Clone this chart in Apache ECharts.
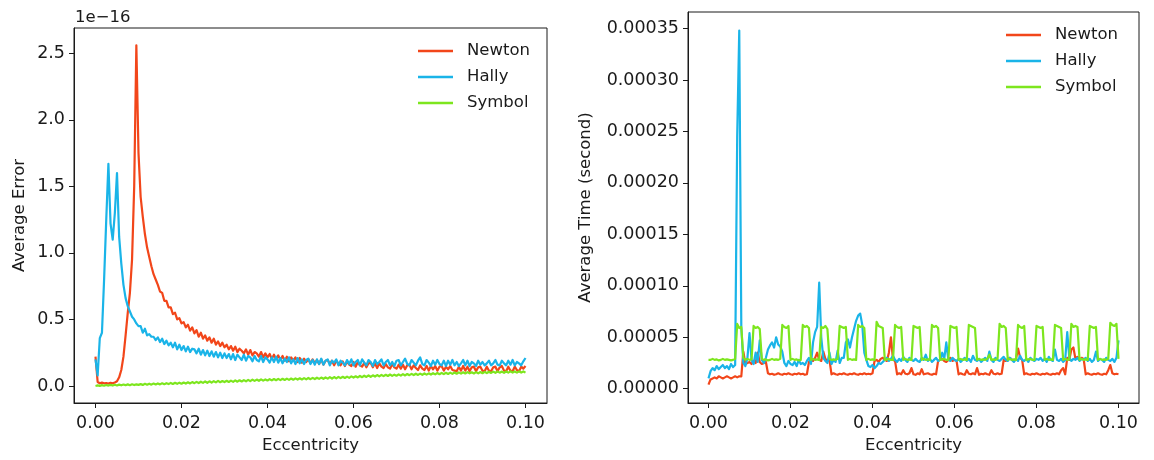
<!DOCTYPE html>
<html>
<head>
<meta charset="utf-8">
<script src="https://cdn.jsdelivr.net/npm/echarts@6/dist/echarts.min.js"></script>
<style>
  html, body { margin: 0; padding: 0; background: #ffffff; }
  #chart { width: 1154px; height: 460px; }
</style>
</head>
<body>
<div id="chart"></div>
<script>
// Sampling grid of orbital eccentricity (0 .. 0.1)
const ECC_STEP = 0.0005;
const SAMPLE_COUNT = 201;
const eccentricity = Array.from({ length: SAMPLE_COUNT }, (_, i) => +(i * ECC_STEP).toFixed(4));

const methodNames = ['Newton', 'Hally', 'Symbol'];

// Tick positions
const eccTicks = [0, 0.02, 0.04, 0.06, 0.08, 0.10];
const errorTicks = [0, 0.5, 1.0, 1.5, 2.0, 2.5];            // ×1e-16
const timeTicks = [0, 50, 100, 150, 200, 250, 300, 350];    // microseconds

// Average error, in units of 1e-16
const errNewton = [
  0.22, 0.03, 0.02, 0.025, 0.02, 0.022, 0.018, 0.024, 0.02, 0.026, 0.035, 0.065, 0.12, 0.22, 0.38, 0.55, 0.70, 0.95, 1.50, 2.56, 1.75,
  1.42, 1.27, 1.14, 1.04, 0.97, 0.90, 0.84, 0.80,
  0.76, 0.71, 0.70, 0.64, 0.64, 0.59, 0.59, 0.54, 0.55, 0.50, 0.51, 0.47,
  0.48, 0.44, 0.46, 0.415, 0.44, 0.395, 0.42, 0.37, 0.40, 0.355, 0.38, 0.34, 0.365, 0.325, 0.355, 0.31, 0.335, 0.30, 0.325, 0.29,
  0.31, 0.275, 0.30, 0.265, 0.295, 0.255, 0.28, 0.265, 0.245, 0.275, 0.235, 0.27, 0.23, 0.255, 0.245, 0.22, 0.255, 0.215, 0.245, 0.215,
  0.24, 0.205, 0.235, 0.2, 0.23, 0.195, 0.225, 0.19, 0.22, 0.185, 0.215, 0.19, 0.215, 0.18, 0.21, 0.175, 0.205, 0.18, 0.2, 0.17,
  0.2, 0.17, 0.195, 0.165, 0.2, 0.16, 0.19, 0.195, 0.165, 0.19, 0.155, 0.19, 0.17, 0.155, 0.185, 0.15, 0.185, 0.16, 0.15, 0.18,
  0.145, 0.18, 0.155, 0.145, 0.175, 0.14, 0.17, 0.175, 0.14, 0.17, 0.135, 0.17, 0.145, 0.135, 0.165, 0.14, 0.13, 0.165, 0.14, 0.13,
  0.16, 0.13, 0.16, 0.125, 0.155, 0.16, 0.125, 0.155, 0.135, 0.12, 0.155, 0.13, 0.12, 0.15, 0.115, 0.15, 0.125, 0.15, 0.115, 0.145,
  0.15, 0.115, 0.145, 0.125, 0.15, 0.12, 0.115, 0.11, 0.145, 0.115, 0.15, 0.115, 0.145, 0.11, 0.14, 0.145, 0.11, 0.14, 0.145, 0.115,
  0.11, 0.145, 0.115, 0.11, 0.14, 0.145, 0.11, 0.14, 0.15, 0.115, 0.11, 0.145, 0.115, 0.11, 0.145, 0.12, 0.11, 0.145, 0.13, 0.15
];
const errHally = [
  0.20, 0.08, 0.36, 0.40, 0.80, 1.25, 1.67, 1.22, 1.10, 1.30, 1.60, 1.12, 0.92, 0.76, 0.66, 0.60, 0.56, 0.52, 0.50, 0.47, 0.45,
  0.45, 0.40, 0.43, 0.38, 0.39, 0.37, 0.37, 0.345, 0.365, 0.33, 0.355, 0.315, 0.34, 0.305, 0.325, 0.29, 0.325, 0.275, 0.31, 0.27,
  0.30, 0.26, 0.295, 0.255, 0.28, 0.275, 0.245, 0.28, 0.235, 0.27, 0.23, 0.265, 0.225, 0.26, 0.22, 0.255, 0.215, 0.25, 0.21, 0.245,
  0.21, 0.24, 0.2, 0.24, 0.195, 0.235, 0.215, 0.195, 0.235, 0.19, 0.225, 0.215, 0.185, 0.225, 0.195, 0.185, 0.225, 0.18, 0.215, 0.2,
  0.175, 0.215, 0.18, 0.22, 0.175, 0.21, 0.17, 0.205, 0.18, 0.215, 0.17, 0.2, 0.165, 0.21, 0.17, 0.2, 0.165, 0.195, 0.205, 0.165,
  0.195, 0.16, 0.2, 0.165, 0.205, 0.16, 0.19, 0.2, 0.155, 0.19, 0.175, 0.2, 0.155, 0.19, 0.175, 0.155, 0.195, 0.165, 0.2, 0.155,
  0.18, 0.195, 0.155, 0.2, 0.175, 0.155, 0.195, 0.18, 0.15, 0.195, 0.165, 0.18, 0.2, 0.155, 0.18, 0.195, 0.155, 0.18, 0.15, 0.19,
  0.195, 0.155, 0.18, 0.205, 0.165, 0.155, 0.195, 0.175, 0.155, 0.19, 0.215, 0.165, 0.155, 0.195, 0.175, 0.15, 0.19, 0.16, 0.195, 0.165,
  0.155, 0.19, 0.15, 0.19, 0.16, 0.195, 0.155, 0.18, 0.15, 0.17, 0.195, 0.155, 0.19, 0.15, 0.18, 0.17, 0.15, 0.19, 0.16, 0.18,
  0.155, 0.17, 0.19, 0.155, 0.17, 0.195, 0.16, 0.155, 0.19, 0.17, 0.155, 0.19, 0.16, 0.195, 0.155, 0.18, 0.17, 0.155, 0.185, 0.21
];
const errSymbol = [
  0.0, 0.004, 0.001, 0.006, 0.002, 0.007, 0.003, 0.008, 0.003, 0.009, 0.004, 0.01, 0.005, 0.011, 0.006, 0.012, 0.006, 0.013, 0.007, 0.012, 0.008,
  0.014, 0.008, 0.016, 0.009, 0.017, 0.01, 0.018, 0.011, 0.019, 0.012, 0.02, 0.013, 0.021, 0.014, 0.023, 0.015, 0.024, 0.016, 0.025, 0.017,
  0.026, 0.018, 0.028, 0.019, 0.029, 0.021, 0.031, 0.022, 0.032, 0.023, 0.034, 0.024, 0.035, 0.025, 0.036, 0.027, 0.038, 0.028, 0.037, 0.029,
  0.039, 0.03, 0.04, 0.031, 0.042, 0.032, 0.043, 0.034, 0.044, 0.035, 0.046, 0.036, 0.047, 0.038, 0.048, 0.039, 0.05, 0.04, 0.049, 0.041,
  0.051, 0.042, 0.052, 0.043, 0.053, 0.044, 0.054, 0.045, 0.055, 0.046, 0.056, 0.047, 0.057, 0.048, 0.058, 0.049, 0.059, 0.05, 0.06, 0.051,
  0.061, 0.052, 0.062, 0.053, 0.063, 0.054, 0.064, 0.055, 0.066, 0.056, 0.067, 0.057, 0.068, 0.059, 0.069, 0.06, 0.07, 0.061, 0.072, 0.063,
  0.073, 0.064, 0.075, 0.066, 0.077, 0.068, 0.079, 0.069, 0.08, 0.071, 0.082, 0.072, 0.083, 0.074, 0.084, 0.075, 0.086, 0.076, 0.085, 0.077,
  0.087, 0.078, 0.089, 0.079, 0.09, 0.081, 0.091, 0.082, 0.092, 0.083, 0.093, 0.084, 0.094, 0.085, 0.095, 0.086, 0.096, 0.087, 0.097, 0.088,
  0.098, 0.089, 0.099, 0.09, 0.1, 0.091, 0.101, 0.092, 0.102, 0.093, 0.103, 0.094, 0.104, 0.095, 0.103, 0.094, 0.104, 0.095, 0.105, 0.096,
  0.106, 0.097, 0.107, 0.098, 0.108, 0.099, 0.109, 0.1, 0.108, 0.099, 0.109, 0.1, 0.11, 0.101, 0.109, 0.1, 0.11, 0.101, 0.109, 0.1
];

// Average solve time, in microseconds
const timeNewton = [
  4,
  9, 10, 11, 10, 12, 11, 10, 11, 12, 11, 10, 11, 12, 11, 12, 12,
  36, 24, 25, 26, 24, 27, 25, 35, 26, 24, 25, 26,
  15, 14, 14.5, 13.5, 14, 15, 14, 13.5, 14.5, 14, 15, 14, 13.5, 14.5, 14, 15, 14, 14.5, 13.5, 14,
  26, 28, 27, 30, 35, 28, 27, 36, 29, 27, 28,
  14, 15, 14, 13.5, 14.5, 14, 15, 14, 13.5, 14.5, 14, 15, 14, 13.5, 14.5, 14, 15, 14, 14.5, 14, 15,
  27, 28, 26, 29, 30, 28, 27, 35, 50, 28, 27,
  14, 15, 14, 18, 14.5, 14, 15, 20, 14, 13.5, 15, 14, 19, 14, 14.5, 15, 14, 13.5, 14.5, 14,
  27, 28, 29, 27, 26, 28, 30, 27, 28, 27,
  14, 15, 14, 13.5, 18, 14.5, 14, 15, 14, 20, 13.5, 14.5, 14, 15, 14, 13.5, 18, 14.5, 14, 15, 14, 14.5,
  28, 27, 29, 30, 28, 27, 29, 39, 30, 28,
  14, 15, 14, 13.5, 14.5, 14, 15, 14, 13.5, 14.5, 14, 15, 14, 13.5, 14.5, 14, 15, 14, 18, 20, 14,
  30, 28, 38, 40, 29, 31, 28, 30, 29,
  14, 15, 14, 13.5, 14.5, 14, 15, 14, 13.5, 14.5, 14, 18, 23, 15, 14, 14.5, 14
];
const timeHally = [
  10,
  17, 20, 18, 22, 19, 21, 23, 20, 22, 19, 24, 21, 23,
  245, 348, 60,
  25, 22, 30, 54, 28, 24, 35, 26, 47, 28, 25, 30,
  38, 42, 45, 40, 50, 43, 41, 36,
  25, 22, 27, 24, 23, 26, 22, 28, 24, 25, 23, 27, 30, 24, 45, 55,
  60, 103, 50, 30,
  27, 25, 35, 24, 28, 26, 37, 25, 30,
  30, 45, 48, 40, 50, 58, 66, 71, 73, 62,
  35, 28, 22, 21, 23, 20, 22, 25, 24,
  26, 28, 30, 27, 29, 32, 28, 26, 29, 27, 31, 28, 26, 30, 28, 27,
  29, 27, 26, 30, 28, 33, 27, 29, 26, 28, 30, 27, 28, 35, 29, 45, 28, 27, 30, 28,
  27, 29, 26, 28, 30, 27, 29, 26, 32, 28, 27, 29, 26, 28, 30, 27, 36, 28, 26, 30,
  28, 27, 29, 31, 28, 27, 30, 28, 26, 29, 27, 32, 28, 27, 29, 26, 30, 28, 27, 29,
  28, 30, 27, 29, 26, 31, 28, 27, 38, 28, 27, 29, 26, 28, 55, 30, 27, 29, 28, 30,
  27, 29, 28, 30, 27, 29, 26, 28, 36, 27, 29, 28, 26, 30, 28, 27, 29, 26, 30, 47
];
const timeSymbol = [
  28,
  28, 29, 28, 28.5, 27.5, 28, 29, 28, 28.5, 28, 27.5, 28, 29,
  63, 59, 60,
  30, 28, 29, 28, 28.5,
  61, 59, 60, 58,
  29, 28, 28.5, 27.5, 28, 29, 28, 28.5, 28, 29,
  62, 60, 59, 61,
  28, 29, 28, 28.5, 27.5, 28,
  62, 60, 61, 59,
  28, 29, 28, 28.5, 28,
  60, 59, 61, 58,
  29, 28, 28.5, 28, 29,
  61, 60, 59, 60,
  28, 29, 28, 28.5, 28,
  62, 60, 61, 59,
  28, 29, 28, 28.5, 28,
  65, 61, 60, 59,
  28, 28.5, 29, 28, 28,
  62, 60, 59, 60,
  28, 29, 28, 28.5, 28,
  61, 60, 59, 60,
  28, 29, 28, 28.5, 28,
  62, 60, 61, 59,
  28, 28.5, 29, 28, 28,
  61, 60, 59, 60,
  28, 29, 28, 28.5, 28,
  62, 61, 60, 59,
  28, 29, 28, 28.5, 28, 29, 33, 28, 28.5, 28, 29,
  63, 60, 61, 59,
  28, 29, 28, 28.5, 28,
  62, 60, 59, 61,
  28, 28.5, 29, 28, 28,
  61, 60, 59, 60,
  28, 29, 28, 28.5, 28,
  62, 61, 60, 59,
  28, 29, 28, 28.5,
  63, 60, 61, 60,
  28, 29, 28, 28.5, 28,
  61, 60, 59, 60,
  28, 29, 28, 28.5, 28, 29,
  64, 62, 61, 63,
  29
];

const FONT = 'DejaVu Sans';
const FONT_SIZE = 16.5;
const TICK_FONT_SIZE = 17.5;
const INK = '#1a1a1a';
const methodColors = { Newton: '#f2461a', Hally: '#1ab4e8', Symbol: '#7de61e' };

const pairs = (values) => values.map((v, i) => [eccentricity[i], v]);

const textStyle = { fontFamily: FONT, fontSize: FONT_SIZE, color: INK };
const tickTextStyle = { fontFamily: FONT, fontSize: TICK_FONT_SIZE, color: INK };

function axis(opts) {
  return Object.assign({
    type: 'value',
    scale: false,
    splitLine: { show: false },
    axisLine: { show: true, onZero: false, lineStyle: { color: INK, width: 1 } },
    nameLocation: 'middle',
    nameTextStyle: textStyle
  }, opts);
}

function ticks(values) {
  return { show: true, inside: false, length: 5, customValues: values, lineStyle: { color: INK, width: 1 } };
}

function xEcc(gridIndex) {
  return axis({
    gridIndex,
    min: -0.005,
    max: 0.105,
    name: 'Eccentricity',
    nameGap: 33,
    axisTick: ticks(eccTicks),
    axisLabel: Object.assign({ customValues: eccTicks, margin: 11, formatter: v => v.toFixed(2) }, tickTextStyle)
  });
}

const legendBase = {
  orient: 'vertical',
  icon: 'rect',
  itemWidth: 35,
  itemHeight: 2.5,
  itemGap: 8,
  padding: 0,
  selectedMode: false,
  data: methodNames,
  textStyle: Object.assign({ lineHeight: 18, padding: [0, 0, 0, 9] }, textStyle)
};

function lineSeries(name, values, gridIndex) {
  return {
    name,
    type: 'line',
    xAxisIndex: gridIndex,
    yAxisIndex: gridIndex,
    data: pairs(values),
    color: methodColors[name],
    showSymbol: false,
    symbol: 'none',
    sampling: null,
    clip: true,
    lineStyle: { width: 2.2, color: methodColors[name], join: 'round' },
    emphasis: { disabled: true }
  };
}

const chart = echarts.init(document.getElementById('chart'), null, { renderer: 'canvas' });

chart.setOption({
  animation: false,
  backgroundColor: '#ffffff',
  grid: [
    { left: 74, top: 28, width: 473, height: 375, show: true, borderColor: INK, borderWidth: 1 },
    { left: 688, top: 12, width: 451, height: 391, show: true, borderColor: INK, borderWidth: 1 }
  ],
  xAxis: [xEcc(0), xEcc(1)],
  yAxis: [
    axis({
      gridIndex: 0,
      min: -0.128,
      max: 2.69,
      name: 'Average Error',
      nameRotate: 90,
      nameGap: 46,
      axisTick: ticks(errorTicks),
      axisLabel: Object.assign({ customValues: errorTicks, margin: 9, formatter: v => v.toFixed(1) }, tickTextStyle)
    }),
    axis({
      gridIndex: 1,
      min: -13.9,
      max: 366.1,
      name: 'Average Time (second)',
      nameRotate: 90,
      nameGap: 94,
      axisTick: ticks(timeTicks),
      axisLabel: Object.assign({ customValues: timeTicks, margin: 9, formatter: v => (v / 1e6).toFixed(5) }, tickTextStyle)
    })
  ],
  legend: [
    Object.assign({ left: 418, top: 42 }, legendBase),
    Object.assign({ left: 1006, top: 26 }, legendBase)
  ],
  graphic: [
    {
      type: 'text',
      left: 75,
      top: 9,
      style: { text: '1e\u221216', font: FONT_SIZE + 'px "' + FONT + '"', fill: INK }
    }
  ],
  series: [
    lineSeries('Newton', errNewton, 0),
    lineSeries('Hally', errHally, 0),
    lineSeries('Symbol', errSymbol, 0),
    lineSeries('Newton', timeNewton, 1),
    lineSeries('Hally', timeHally, 1),
    lineSeries('Symbol', timeSymbol, 1)
  ]
});
</script>
</body>
</html>
